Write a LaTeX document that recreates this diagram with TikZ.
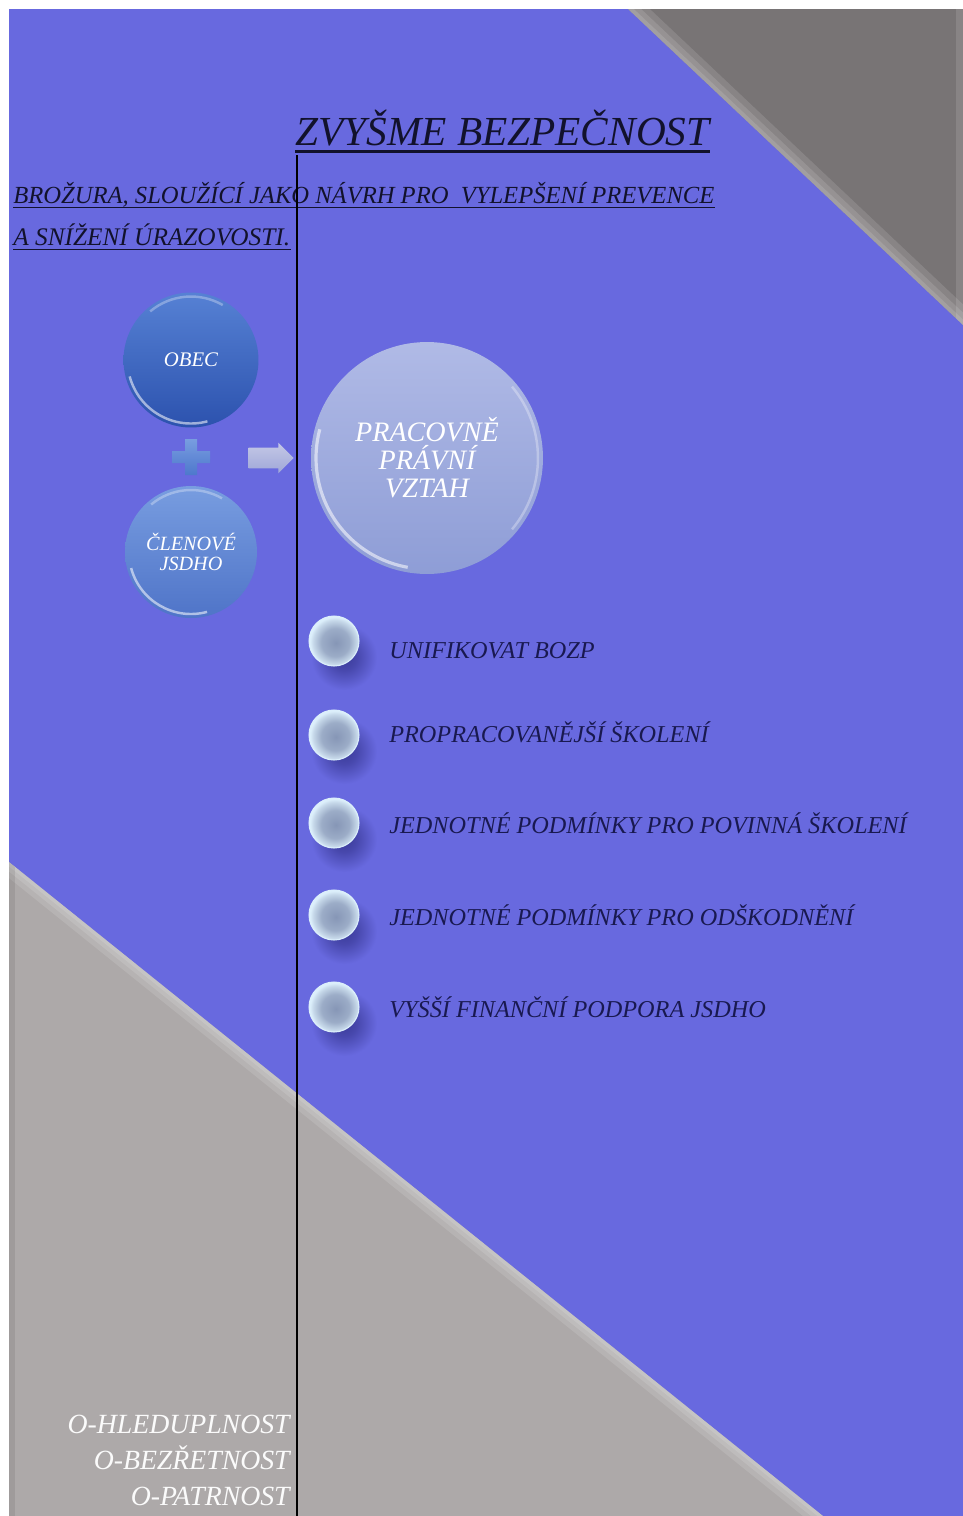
\documentclass[tikz,border=0pt]{standalone}
\usepackage{fontspec}
\setmainfont{Liberation Serif}
\usetikzlibrary{positioning,shapes.arrows}

\definecolor{pageblue}{HTML}{6869DF}
\definecolor{cornergray}{HTML}{787475}
\definecolor{foldgray}{HTML}{ADA9A9}
\definecolor{titleink}{HTML}{12122C}
\definecolor{itemink}{HTML}{191950}
\definecolor{obectop}{HTML}{5681D4}
\definecolor{obecbot}{HTML}{2C52AE}
\definecolor{clentop}{HTML}{789DE0}
\definecolor{clenbot}{HTML}{4F74C8}
\definecolor{vztahtop}{HTML}{B0BAE6}
\definecolor{vztahbot}{HTML}{8E9DD6}
\definecolor{arrowtop}{HTML}{C4C8E6}
\definecolor{arrowbot}{HTML}{9FA7D8}
\definecolor{dotmid}{HTML}{8696B6}
\definecolor{dotrim}{HTML}{DCEFFB}
\definecolor{dotshade}{HTML}{3A3A98}

\pgfdeclareradialshading{dotball}{\pgfpoint{2bp}{-2bp}}{color(0bp)=(dotmid); color(14bp)=(dotmid!75!dotrim); color(22bp)=(dotrim!75!dotmid); color(25bp)=(dotrim); color(50bp)=(dotrim)}
\pgfdeclareradialshading{dotblur}{\pgfpointorigin}{color(0bp)=(dotshade); color(10bp)=(dotshade!70!pageblue); color(25bp)=(pageblue); color(50bp)=(pageblue)}

\tikzset{
    %Define style for the round bubbles
    bubblenode/.style={
             circle, inner sep=0pt,
             align=center,
             text=white},
    %Define style for the small list balls
    dotnode/.style={
             circle, inner sep=0pt,
             minimum size=1cm,
             shade, shading=dotball,
             draw=dotrim, line width=0.6pt},
    % Define style for the list texts
    itemtext/.style={
             anchor=base west, inner sep=0pt,
             text=itemink,
             font=\fontsize{13.8}{16}\selectfont\itshape},
    % Define style for the heading texts
    headtext/.style={
             anchor=base west, inner sep=0pt,
             text=titleink},
    % Define glossy rim line
    rimglow/.style={
            white, opacity=0.55,
            line width=1.4pt},
    % Define light fold edges
    foldglow/.style={
            white, opacity=0.12}
}

\begin{document}
\begin{tikzpicture}[x=0.02cm, y=-0.02cm]
 \useasboundingbox (0,0) rectangle (963,1516);
 \fill[white] (0,0) rectangle (963,1516);
 \fill[pageblue] (9,9) rectangle (963,1516);
 % gray corners
 \fill[cornergray] (628,9) -- (963,9) -- (963,325) -- cycle;
 \begin{scope}
  \clip (628,9) -- (963,9) -- (963,325) -- cycle;
  \draw[foldglow, line width=0.6cm] (628,9) -- (963,325);
  \draw[foldglow, line width=0.36cm] (628,9) -- (963,325);
  \draw[foldglow, line width=0.16cm] (628,9) -- (963,325);
  \draw[foldglow, line width=0.3cm] (963,9) -- (963,325);
 \end{scope}
 \fill[foldgray] (9,862) -- (823,1516) -- (9,1516) -- cycle;
 \begin{scope}
  \clip (9,862) -- (823,1516) -- (9,1516) -- cycle;
  \draw[foldglow, line width=0.5cm] (9,862) -- (823,1516);
  \draw[foldglow, line width=0.3cm] (9,862) -- (823,1516);
  \draw[foldglow, line width=0.14cm] (9,862) -- (823,1516);
  \draw[black, opacity=0.08, line width=0.24cm] (9,862) -- (9,1516);
 \end{scope}
 % headings
 \node[headtext, font=\fontsize{23.5}{28}\selectfont\itshape] (title) at (295,145) {ZVYŠME BEZPEČNOST};
 \node[headtext, font=\fontsize{14}{16}\selectfont\itshape] (sub1) at (13,203) {BROŽURA, SLOUŽÍCÍ JAKO NÁVRH PRO~ VYLEPŠENÍ PREVENCE};
 \node[headtext, font=\fontsize{14.4}{16}\selectfont\itshape] (sub2) at (13,245) {A SNÍŽENÍ ÚRAZOVOSTI.};
 \draw[titleink, line width=1.7pt] ([yshift=-0.12cm]title.base west) -- ([yshift=-0.12cm]title.base east);
 \draw[titleink, line width=0.7pt] ([yshift=-0.09cm]sub1.base west) -- ([yshift=-0.09cm]sub1.base east);
 \draw[titleink, line width=0.7pt] ([yshift=-0.09cm]sub2.base west) -- ([yshift=-0.09cm]sub2.base east);
 % spine
 \coordinate (spinetop) at (297,155);
 \coordinate (spinebot) at (297,1516);
 \draw[black, line width=1.1pt] (spinetop) -- (spinebot);
 % bubbles
 \node[bubblenode, minimum size=2.7cm, top color=obectop, bottom color=obecbot,
       font=\fontsize{11.8}{12}\selectfont\itshape] (obec) at (191,360) {OBEC};
 \node[bubblenode, minimum size=2.64cm, top color=clentop, bottom color=clenbot,
       font=\fontsize{11.5}{11.4}\selectfont\itshape] (clen) at (191,552) {ČLENOVÉ\\JSDHO};
 \node[bubblenode, minimum size=4.64cm, top color=vztahtop, bottom color=vztahbot,
       font=\fontsize{16}{15.9}\selectfont\itshape] (vztah) at (427,458) {PRACOVNĚ\\PRÁVNÍ\\VZTAH};
 \draw[rimglow] ([shift={(195:1.27cm)}]obec.center) arc[start angle=195, end angle=285, radius=1.27cm];
 \draw[rimglow, opacity=0.3] ([shift={(60:1.27cm)}]obec.center) arc[start angle=60, end angle=130, radius=1.27cm];
 \draw[rimglow] ([shift={(195:1.24cm)}]clen.center) arc[start angle=195, end angle=285, radius=1.24cm];
 \draw[rimglow, opacity=0.3] ([shift={(60:1.24cm)}]clen.center) arc[start angle=60, end angle=130, radius=1.24cm];
 \draw[rimglow, line width=1.8pt] ([shift={(165:2.22cm)}]vztah.center) arc[start angle=165, end angle=260, radius=2.22cm];
 \draw[rimglow, opacity=0.3] ([shift={(-40:2.22cm)}]vztah.center) arc[start angle=-40, end angle=40, radius=2.22cm];
 % plus and arrow
 \shade[top color=clentop, bottom color=obectop!80!obecbot]
   (185,439) -- (197,439) -- (197,451) -- (210,451) -- (210,463) -- (197,463)
   -- (197,475) -- (185,475) -- (185,463) -- (172,463) -- (172,451) -- (185,451) -- cycle;
 \node[single arrow, minimum height=0.9cm, inner sep=0.2cm,
       single arrow head extend=0.1cm, top color=arrowtop, bottom color=arrowbot] (arrow) at (266,458) {};
 % list shadows
 \shade[shading=dotblur] (344,657) circle (0.66cm);
 \shade[shading=dotblur] (344,751) circle (0.66cm);
 \shade[shading=dotblur] (344,839) circle (0.66cm);
 \shade[shading=dotblur] (344,931) circle (0.66cm);
 \shade[shading=dotblur] (344,1023) circle (0.66cm);
 % list
 \node[dotnode] (dot1) at (334,641) {};
 \node[dotnode] (dot2) at (334,735) {};
 \node[dotnode] (dot3) at (334,823) {};
 \node[dotnode] (dot4) at (334,915) {};
 \node[dotnode] (dot5) at (334,1007) {};
 \node[itemtext] (item1) at (389,658) {UNIFIKOVAT BOZP};
 \node[itemtext] (item2) at (389,742) {PROPRACOVANĚJŠÍ ŠKOLENÍ};
 \node[itemtext] (item3) at (389,833) {JEDNOTNÉ PODMÍNKY PRO POVINNÁ ŠKOLENÍ};
 \node[itemtext] (item4) at (389,925) {JEDNOTNÉ PODMÍNKY PRO ODŠKODNĚNÍ};
 \node[itemtext] (item5) at (389,1017) {VYŠŠÍ FINANČNÍ PODPORA JSDHO};
 % motto
 \node[anchor=base east, inner sep=0pt, align=right, text=white!95!foldgray,
       font=\fontsize{15.8}{20.4}\selectfont\itshape] (motto) at (290,1505)
       {O-HLEDUPLNOST\\O-BEZŘETNOST\\O-PATRNOST};
\end{tikzpicture}
\end{document}
